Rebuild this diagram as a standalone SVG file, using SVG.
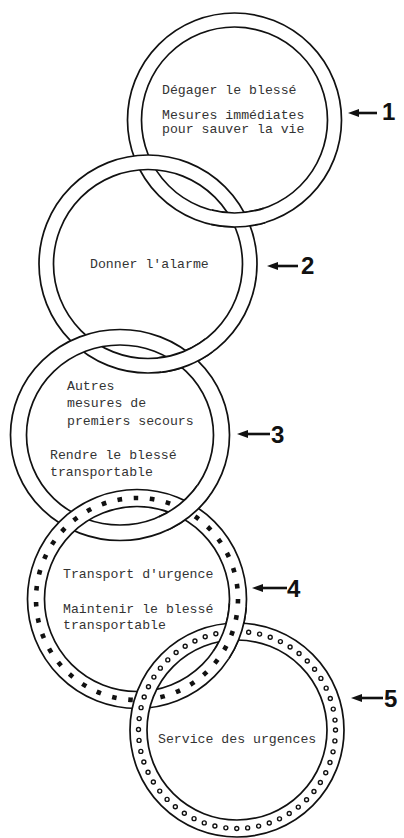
<svg xmlns="http://www.w3.org/2000/svg" xmlns:xlink="http://www.w3.org/1999/xlink" width="404" height="838" viewBox="0 0 404 838">
<style>
.ln{fill:none;stroke:#111;stroke-width:1.7}
.band{fill:none;stroke:#fff}
.t{font-family:"Liberation Mono","DejaVu Sans Mono",monospace;font-size:13.2px;fill:#333}
.num{font-family:"Liberation Sans",Arial,sans-serif;font-size:24px;font-weight:bold;fill:#111}
.arr{fill:none;stroke:#111;stroke-width:2.6}
</style>
<defs>
<marker id="ah" viewBox="0 0 11 8" refX="5" refY="4" markerWidth="11" markerHeight="8" markerUnits="userSpaceOnUse" orient="auto">
<path d="M0,0 L11,4 L0,8 z" fill="#111"/>
</marker>
<g id="band1">
<circle class="band" cx="234.5" cy="120" r="100" stroke-width="14"/>
<circle class="ln" cx="234.5" cy="120" r="107"/>
<circle class="ln" cx="234.5" cy="120" r="93"/>
</g>
<g id="band2">
<circle class="band" cx="148" cy="264" r="101.7" stroke-width="14.5"/>
<circle class="ln" cx="148" cy="264" r="109"/>
<circle class="ln" cx="148" cy="264" r="94.5"/>
</g>
<g id="band3">
<ellipse class="band" cx="120" cy="435" rx="101.5" ry="97.7" stroke-width="15.5"/>
<ellipse class="ln" cx="120" cy="435" rx="109.5" ry="105.5"/>
<ellipse class="ln" cx="120" cy="435" rx="93.5" ry="90"/>
</g>
<g id="band4">
<circle class="band" cx="137" cy="599" r="101" stroke-width="17"/>
<circle class="ln" cx="137" cy="599" r="109.5"/>
<circle class="ln" cx="137" cy="599" r="92.5"/>
<circle cx="137" cy="599" r="101" fill="none" stroke="#111" stroke-width="4.6" stroke-dasharray="4.6 11.67"/>
</g>
<g id="band5">
<circle class="band" cx="237" cy="730" r="98.5" stroke-width="17"/>
<circle class="ln" cx="237" cy="730" r="107"/>
<circle class="ln" cx="237" cy="730" r="90"/>
<circle cx="237" cy="730" r="98.5" fill="none" stroke="#111" stroke-width="5.4" stroke-linecap="round" stroke-dasharray="0 11.0516"/>
<circle cx="237" cy="730" r="98.5" fill="none" stroke="#fff" stroke-width="2.6" stroke-linecap="round" stroke-dasharray="0 11.0516"/>
</g>
<clipPath id="c12"><circle cx="238" cy="219" r="28"/></clipPath>
<clipPath id="c23"><circle cx="186" cy="359" r="28"/></clipPath>
<clipPath id="c34"><circle cx="186" cy="511" r="28"/></clipPath>
<clipPath id="c45"><circle cx="232" cy="631" r="28"/></clipPath>
</defs>
<rect width="404" height="838" fill="#fff"/>
<g id="ring1">
<use xlink:href="#band1"/>
<text class="t" x="162" y="94">Dégager le blessé</text>
<text class="t" x="162" y="119">Mesures immédiates</text>
<text class="t" x="162" y="133">pour sauver la vie</text>
</g>
<g id="ring2">
<use xlink:href="#band2"/>
<text class="t" x="90" y="268">Donner l'alarme</text>
</g>
<use xlink:href="#band1" clip-path="url(#c12)"/>
<g id="ring3">
<use xlink:href="#band3"/>
<text class="t" x="67" y="390">Autres</text>
<text class="t" x="67" y="407">mesures de</text>
<text class="t" x="67" y="425">premiers secours</text>
<text class="t" x="50" y="459">Rendre le blessé</text>
<text class="t" x="50" y="476">transportable</text>
</g>
<use xlink:href="#band2" clip-path="url(#c23)"/>
<g id="ring4">
<use xlink:href="#band4"/>
<text class="t" x="63" y="578">Transport d'urgence</text>
<text class="t" x="63" y="613">Maintenir le blessé</text>
<text class="t" x="63" y="629">transportable</text>
</g>
<use xlink:href="#band3" clip-path="url(#c34)"/>
<g id="ring5">
<use xlink:href="#band5"/>
<text class="t" x="158" y="743">Service des urgences</text>
</g>
<use xlink:href="#band4" clip-path="url(#c45)"/>
<g id="connectors">
<path class="arr" d="M377,113 H354" marker-end="url(#ah)"/>
<path class="arr" d="M298,266 H273" marker-end="url(#ah)"/>
<path class="arr" d="M270,434 H243" marker-end="url(#ah)"/>
<path class="arr" d="M287,588 H258" marker-end="url(#ah)"/>
<path class="arr" d="M383,698 H357" marker-end="url(#ah)"/>
</g>
<g id="labels">
<text class="num" x="382" y="120">1</text>
<text class="num" x="301" y="274">2</text>
<text class="num" x="271" y="443">3</text>
<text class="num" x="287" y="597">4</text>
<text class="num" x="384" y="707">5</text>
</g>
</svg>
